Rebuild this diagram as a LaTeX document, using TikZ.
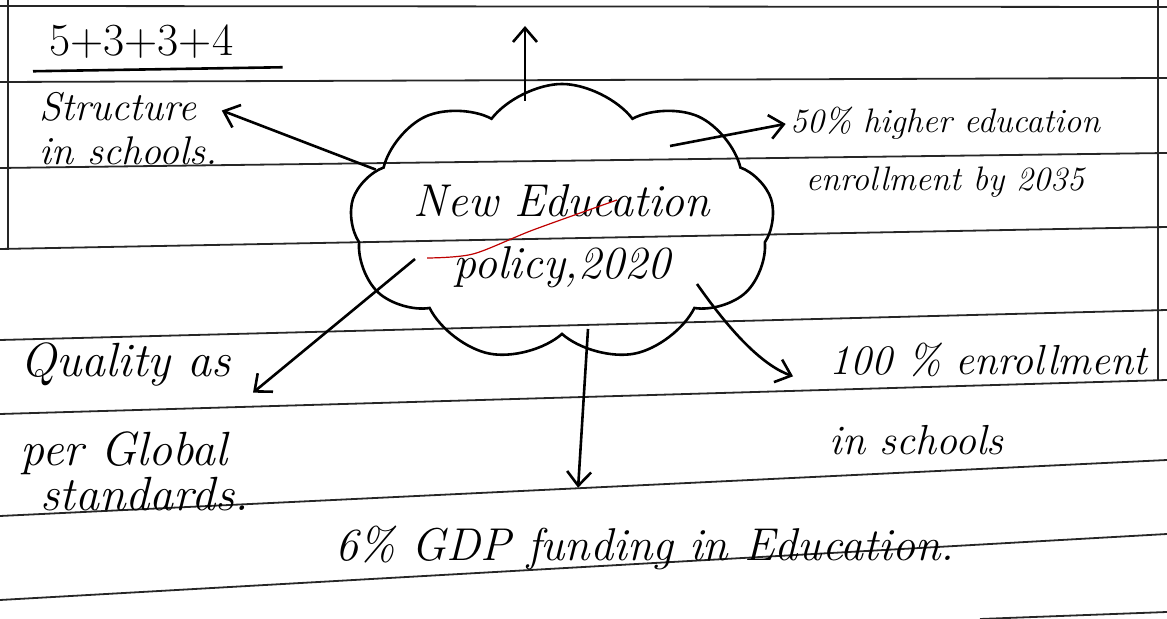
\documentclass[tikz,border=0pt]{standalone}
\usepackage{fontspec}
\usetikzlibrary{shapes.symbols, arrows.meta, calc}

\begin{document}
\begin{tikzpicture}[
    x=0.5pt, y=-0.5pt,
    pen/.style={line width=1.3pt, black},
    ruled/.style={line width=0.9pt, black!85},
    idea/.style={pen, draw, cloud, cloud puffs=9, cloud puff arc=105, cloud ignores aspect, minimum width=190pt, minimum height=139pt, align=center, inner sep=0pt, font=\fontsize{23}{31}\selectfont\itshape},
    note/.style={align=left, inner sep=2pt, font=\fontsize{20}{24}\selectfont\itshape},
    arr/.style={pen, -{Straight Barb[length=7pt, width=12pt]}},
]
    \useasboundingbox (0,0) rectangle (1167,619);

    % ruled paper
    \draw[ruled] (0,6) -- (1167,7);
    \draw[ruled] (0,82) -- (1167,78);
    \draw[ruled] (0,168) -- (1167,153);
    \draw[ruled] (0,249) -- (1167,227);
    \draw[ruled] (0,340) -- (1167,310);
    \draw[ruled] (0,414) -- (1167,380);
    \draw[ruled] (0,516) -- (1167,460);
    \draw[ruled] (0,600) -- (1167,534);
    \draw[ruled] (980,619) -- (1167,612);
    \draw[ruled] (8,0) -- (8,250);
    \draw[ruled] (1158,0) -- (1158,380);

    % centre
    \node[idea] (npe) at (562,223) {\rule{0pt}{29pt}New Education\\policy,2020};
    \draw[red!75!black, line width=0.6pt] plot[smooth] coordinates {(427,258) (473,254) (533,230) (617,200)};

    % labels
    \node[note, anchor=west, font=\fontsize{23}{24}\selectfont] (sum) at (45,42) {5+3+3+4};
    \draw[pen] ($(sum.south west)+(-12,8)$) -- ($(sum.south east)+(45,4)$);
    \node[note, anchor=north west] (struct) at (35,88) {Structure\\[-2pt]in schools.};
    \node[note, align=center, font=\fontsize{17}{29}\selectfont\itshape] (hi) at (945,152) {50\% higher education\\enrollment by 2035};
    \node[note, anchor=north west, font=\fontsize{24}{20}\selectfont\itshape] (qual) at (16,338) {Quality as\\[22pt]per Global\\\hspace*{10pt}standards.};
    \node[note, anchor=north west, font=\fontsize{21}{40}\selectfont\itshape] (enr) at (825,339) {100 \% enrollment\\in schools};
    \node[note, font=\fontsize{23}{28}\selectfont\itshape] (gdp) at (645,548) {6\% GDP funding in Education.};
    \coordinate (top) at (525,26);

    % arrows
    \draw[arr] (npe.164) -- (struct.11);
    \draw[arr] ($(npe.center)+(-37,-122)$) -- (top);
    \draw[arr] ($(npe.center)+(108,-77)$) -- (hi.170);
    \draw[arr] ($(npe.center)+(-147,36)$) -- (qual.16);
    \draw[arr, shorten >=17pt] ($(npe.center)+(26,106)$) -- ($(gdp.north west)!0.39!(gdp.north east)$);
    \draw[arr, shorten >=17pt] ($(npe.center)+(135,61)$) to[out=-55, in=160] (enr.176);
\end{tikzpicture}
\end{document}
